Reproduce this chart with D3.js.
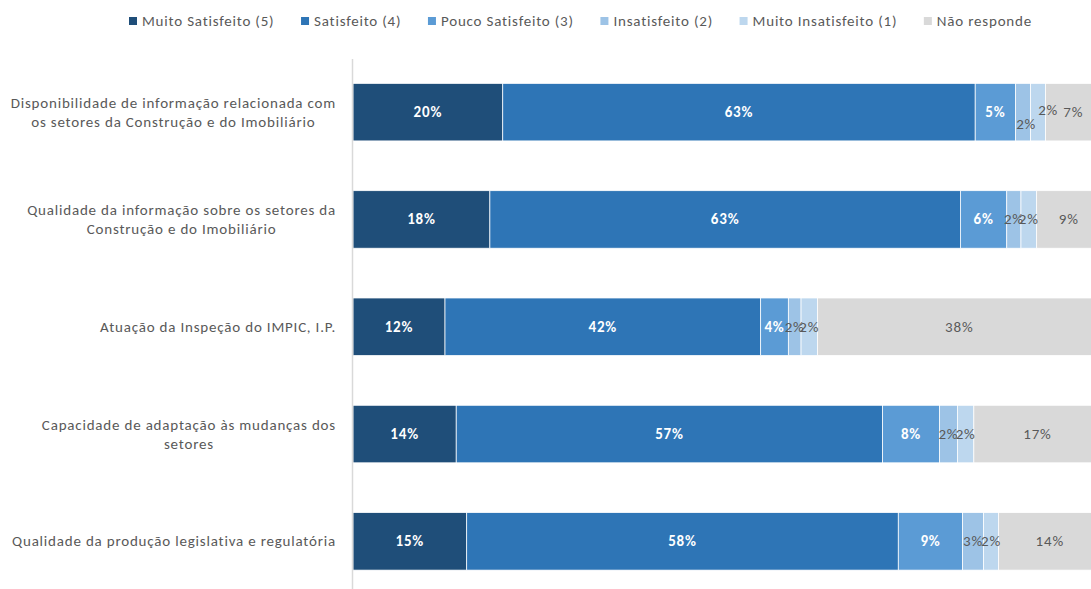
<!DOCTYPE html>
<html lang="pt">
<head>
<meta charset="utf-8">
<script src="https://cdn.jsdelivr.net/npm/d3@7"></script>
<style>
  html, body { margin: 0; padding: 0; background: #fff; overflow: hidden; }
  svg { display: block; font-family: Carlito, Calibri, Lato, "Open Sans", sans-serif; }
</style>
</head>
<body>
<svg id="chart" width="1091" height="589"></svg>
<script>
// Categories (each entry holds the lines of its axis label)
const categories = [
  ["Disponibilidade de informação relacionada com", "os setores da Construção e do Imobiliário"],
  ["Qualidade da informação sobre os setores da", "Construção e do Imobiliário"],
  ["Atuação da Inspeção do IMPIC, I.P."],
  ["Capacidade de adaptação às mudanças dos", "setores"],
  ["Qualidade da produção legislativa e regulatória"]
];

// Answer options, in stacking order
const seriesNames = [
  "Muito Satisfeito (5)",
  "Satisfeito (4)",
  "Pouco Satisfeito (3)",
  "Insatisfeito (2)",
  "Muito Insatisfeito (1)",
  "Não responde"
];

// Share of answers (%) per category, one array per answer option
const muitoSatisfeito   = [20.0, 18.3, 12.3, 13.8, 15.2];
const satisfeito        = [63.1, 62.9, 42.2, 57.0, 57.7];
const poucoSatisfeito   = [5.4, 6.2, 3.7, 7.6, 8.6];
const insatisfeito      = [2.0, 1.9, 1.7, 2.4, 2.8];
const muitoInsatisfeito = [2.0, 2.1, 2.2, 2.2, 2.0];
const naoResponde       = [7.4, 8.6, 37.9, 17.0, 13.7];

const seriesValues = [muitoSatisfeito, satisfeito, poucoSatisfeito, insatisfeito, muitoInsatisfeito, naoResponde];

const colors = ["#1f4e79", "#2e75b6", "#5b9bd5", "#9dc3e6", "#bdd7ee", "#d9d9d9"];
const labelColors = ["#ffffff", "#ffffff", "#ffffff", "#595959", "#595959", "#595959"];
const labelWeights = ["bold", "bold", "bold", "normal", "normal", "normal"];

// Small offsets for labels that would otherwise collide (row index -> series index -> [dx, dy])
const labelNudge = { 0: { 3: [3, 12], 4: [10, -2] } };

const svg = d3.select("#chart");
const textColor = "#595959";
const fontSize = 15;
const spacing = 0.8;

// Build stacked rows normalised to 100%
const keys = seriesNames.map((_, i) => "s" + i);
const rows = categories.map((c, ci) => {
  const row = { idx: ci };
  const total = d3.sum(seriesValues, s => s[ci]);
  keys.forEach((k, si) => { row[k] = seriesValues[si][ci] / total * 100; row["raw" + si] = seriesValues[si][ci]; });
  return row;
});
const stacked = d3.stack().keys(keys)(rows);

const x = d3.scaleLinear().domain([0, 100]).range([353, 1101]);
const y = d3.scaleBand()
  .domain(d3.range(categories.length))
  .range([58.5, 595])
  .paddingInner(0.464)
  .paddingOuter(0.232);

// Bars
const layers = svg.append("g").selectAll("g")
  .data(stacked)
  .join("g")
  .attr("fill", (d, i) => colors[i]);

layers.selectAll("rect")
  .data(d => d)
  .join("rect")
  .attr("x", d => x(d[0]))
  .attr("y", (d, i) => y(i))
  .attr("width", d => x(d[1]) - x(d[0]))
  .attr("height", y.bandwidth())
  .attr("stroke", "#ffffff")
  .attr("stroke-width", 0.75);

// Value labels
stacked.forEach((layer, si) => {
  svg.append("g").selectAll("text")
    .data(layer)
    .join("text")
    .attr("x", (d, ri) => (x(d[0]) + x(d[1])) / 2 + ((labelNudge[ri] && labelNudge[ri][si]) ? labelNudge[ri][si][0] : 0))
    .attr("y", (d, ri) => y(ri) + y.bandwidth() / 2 + ((labelNudge[ri] && labelNudge[ri][si]) ? labelNudge[ri][si][1] : 0))
    .attr("text-anchor", "middle")
    .attr("dominant-baseline", "central")
    .attr("font-size", fontSize)
    .attr("letter-spacing", spacing)
    .attr("font-weight", labelWeights[si])
    .attr("fill", labelColors[si])
    .text((d, ri) => Math.round(rows[ri]["raw" + si]) + "%");
});

// Category axis (line only; labels drawn below as wrapped text)
const axis = svg.append("g")
  .attr("transform", "translate(352,0)")
  .call(d3.axisLeft(y).tickSize(0).tickFormat(""));
axis.select(".domain").attr("stroke", "#d9d9d9").attr("stroke-width", 1.5);

// Category labels: block right-aligned to the axis, lines centred in the block
const labelRight = 336;
const lineHeight = 19;
categories.forEach((lines, ci) => {
  const g = svg.append("g");
  const texts = lines.map((line, li) => g.append("text")
    .attr("font-size", fontSize)
    .attr("letter-spacing", spacing)
    .attr("fill", textColor)
    .attr("text-anchor", "middle")
    .attr("dominant-baseline", "central")
    .text(line));
  const blockW = d3.max(texts, t => t.node().getComputedTextLength());
  const cy = y(ci) + y.bandwidth() / 2;
  texts.forEach((t, li) => {
    t.attr("x", labelRight - blockW / 2)
     .attr("y", cy + (li - (lines.length - 1) / 2) * lineHeight);
  });
});

// Legend across the top
const legendStart = 129, legendEnd = 1032, legendY = 21, sw = 8, textGap = 5;
const legend = svg.append("g");
const items = seriesNames.map((name, i) => {
  const g = legend.append("g");
  g.append("rect").attr("width", sw).attr("height", sw).attr("y", legendY - sw / 2).attr("fill", colors[i]);
  const t = g.append("text")
    .attr("x", sw + textGap)
    .attr("y", legendY)
    .attr("dominant-baseline", "central")
    .attr("font-size", fontSize)
    .attr("letter-spacing", spacing)
    .attr("fill", textColor)
    .text(name);
  return { g, w: sw + textGap + t.node().getComputedTextLength() };
});
const totalW = d3.sum(items, d => d.w);
const gap = (legendEnd - legendStart - totalW) / (items.length - 1);
let cx = legendStart;
items.forEach(it => { it.g.attr("transform", `translate(${cx},0)`); cx += it.w + gap; });
</script>
</body>
</html>
